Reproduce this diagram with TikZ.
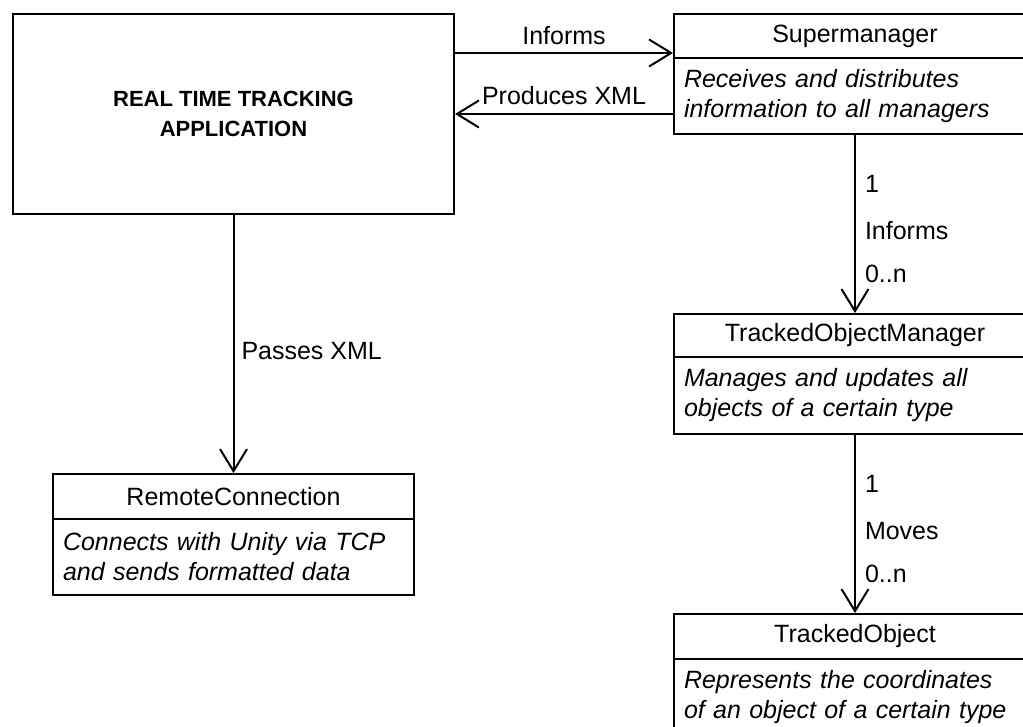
\documentclass[tikz,border=0pt]{standalone}
\usepackage{fontspec}
\setmainfont{Liberation Sans}
\usetikzlibrary{arrows.meta}
\begin{document}
\begin{tikzpicture}[x=1pt,y=-1pt,
  every node/.style={font=\fontsize{25}{30}\selectfont},
  box/.style={draw, line width=2pt, inner sep=0pt, anchor=north west},
  title/.style={box, minimum width=362pt},
  desc/.style={box, minimum width=362pt, inner xsep=10pt, text width=342pt, align=left,
    font=\itshape\fontsize{25}{30}\selectfont},
  conn/.style={line width=2pt, -{Straight Barb[length=22pt,width=27pt,line width=2pt]}},
  lbl/.style={inner sep=0pt, anchor=base},
  vlbl/.style={inner sep=0pt, anchor=base west, xshift=9pt}]
\useasboundingbox (0,0) rectangle (1023,727);
\clip (0,0) rectangle (1023,727);
\fill[white] (0,0) rectangle (1023,727);

% application
\node[box, minimum width=441pt, minimum height=200pt, align=center,
  font=\bfseries\fontsize{22}{30}\selectfont] (app) at (12,13) {REAL TIME TRACKING\\APPLICATION};

% Supermanager
\node[title, minimum height=44pt] (smh) at (673,13) {Supermanager};
\node[desc, minimum height=76pt] (smb) at (673,57) {Receives and distributes\\information to all managers};

% TrackedObjectManager
\node[title, minimum height=43pt] (tmh) at (673,313) {TrackedObjectManager};
\node[desc, minimum height=77pt] (tmb) at (673,356) {Manages and updates all\\objects of a certain type};

% TrackedObject
\node[title, minimum height=45pt] (toh) at (673,613) {TrackedObject};
\node[desc, minimum height=77pt] (tob) at (673,658) {Represents the coordinates\\of an object of a certain type};

% RemoteConnection
\node[box, minimum width=361pt, minimum height=45pt] (rch) at (52,473) {RemoteConnection};
\node[box, minimum width=361pt, minimum height=76pt, inner xsep=10pt, text width=341pt, align=left,
  font=\itshape\fontsize{25}{30}\selectfont] (rcb) at (52,518) {Connects with Unity via TCP\\and sends formatted data};

% connectors
\coordinate (inf) at ([yshift=-17pt]smh.west);
\coordinate (pro) at ([yshift=-18pt]smb.west);
\draw[conn] (app.east |- inf) -- (inf) node[lbl, midway, yshift=8pt] {Informs};
\draw[conn] (pro) -- (app.east |- pro) node[lbl, midway, yshift=9pt] {Produces XML};

\draw[conn] (smb.south) -- (tmh.north)
  node[vlbl, pos=0.322] {1}
  node[vlbl, pos=0.589] {Informs}
  node[vlbl, pos=0.827] {0..n};
\draw[conn] (tmb.south) -- (toh.north)
  node[vlbl, pos=0.322] {1}
  node[vlbl, pos=0.589] {Moves}
  node[vlbl, pos=0.828] {0..n};
\draw[conn] (app.south) -- (rch.north)
  node[vlbl, pos=0.5615, xshift=-2pt] {Passes XML};
\end{tikzpicture}
\end{document}
